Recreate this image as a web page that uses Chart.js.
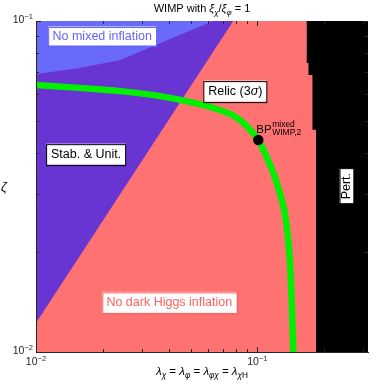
<!DOCTYPE html>
<html><head><meta charset="utf-8">
<script src="https://cdn.jsdelivr.net/npm/chart.js@4/dist/chart.umd.min.js"></script>
<style>html,body{margin:0;padding:0;background:#fff}canvas{display:block}</style>
</head><body>
<canvas id="c" width="374" height="388"></canvas>
<script>
// ---------- data ----------
const xRange = [0.01, 0.316];
const yRange = [0.01, 0.1];
// Relic (3 sigma) curve
const relicX = [0.0100, 0.0158, 0.0240, 0.0364, 0.0498, 0.0632, 0.0813, 0.0948, 0.1010, 0.1064, 0.1181, 0.1271, 0.1352, 0.1410, 0.1455];
const relicY = [0.0641, 0.0628, 0.0614, 0.0593, 0.0569, 0.0546, 0.0509, 0.0462, 0.0437, 0.0408, 0.0347, 0.0298, 0.0245, 0.0177, 0.0100];
// Stability & unitarity boundary (excluded above)
const stabX = [0.0100, 0.0778];
const stabY = [0.01224, 0.1];
// No mixed inflation boundary (excluded above)
const mixedX = [0.0100, 0.0158, 0.0240, 0.0384, 0.0632];
const mixedY = [0.0692, 0.0721, 0.0763, 0.0870, 0.1];
// Perturbativity boundary (excluded right)
const pertX = [0.1667, 0.1667, 0.1701, 0.1701, 0.1773, 0.1773, 0.1840, 0.1840, 0.316];
const pertY = [0.1, 0.0746, 0.0746, 0.0687, 0.0687, 0.0469, 0.0469, 0.0100, 0.0100];
// No dark Higgs inflation region (background)
const darkX = [0.01, 0.316];
const darkY = [0.01, 0.01];
// Benchmark point
const bpX = [0.101];
const bpY = [0.0437];
// ticks
const xMajorTicks = [0.01, 0.1];
const xTickLabels = [['10', '\u22122'], ['10', '\u22121']];
const yMajorTicks = [0.01, 0.1];
const yTickLabels = [['10', '\u22122'], ['10', '\u22121']];
const xMinorTicks = [0.02, 0.03, 0.04, 0.05, 0.06, 0.07, 0.08, 0.09, 0.2, 0.3];
const yMinorTicks = [0.02, 0.03, 0.04, 0.05, 0.06, 0.07, 0.08, 0.09];
// annotation labels
const labelTexts = ['No mixed inflation', 'Stab. & Unit.', 'Relic (3\u03c3)', 'No dark Higgs inflation', 'Pert.'];
const labelX = [0.0199, 0.01684, 0.0795, 0.0400, 0.2528];
const labelY = [0.0901, 0.0396, 0.0614, 0.01412, 0.0317];

// ---------- styles ----------
const FONT = '"Liberation Sans", Arial, Helvetica, sans-serif';
const labelColors = ['rgb(100,100,255)', '#000', '#000', 'rgb(255,95,95)', '#000'];
const labelRot = [0, 0, 0, 0, -Math.PI / 2];
const labelBoxH = [19, 21, 21, 21, 14];

const pts = (xs, ys) => xs.map((x, i) => ({x, y: ys[i]}));
const fillDs = (xs, ys, bg, order) => ({
  data: pts(xs, ys), showLine: true, borderWidth: 0, borderColor: 'rgba(0,0,0,0)',
  pointRadius: 0, fill: 'end', backgroundColor: bg, order
});

// ---------- rich text ----------
const greek = /[\u0370-\u03ff]/;
function segsOf(text) {
  const out = []; let cur = '';
  for (const ch of text) {
    if (greek.test(ch)) { if (cur) out.push({t: cur}); out.push({t: ch, it: true}); cur = ''; }
    else cur += ch;
  }
  if (cur) out.push({t: cur});
  return out;
}
function fontFor(s, base) {
  const size = (s.k === 'sub' || s.k === 'sup') ? base * 0.72 : base;
  return (s.it ? 'italic ' : '') + size + 'px ' + FONT;
}
function richWidth(ctx, segs, base) {
  let w = 0;
  for (const s of segs) { ctx.font = fontFor(s, base); w += ctx.measureText(s.t).width; }
  return w;
}
function drawRich(ctx, segs, x, y, align, base) {
  const w = richWidth(ctx, segs, base);
  let cx = align === 'center' ? x - w / 2 : align === 'right' ? x - w : x;
  ctx.textAlign = 'left';
  for (const s of segs) {
    ctx.font = fontFor(s, base);
    const dy = s.k === 'sub' ? base * 0.28 : s.k === 'sup' ? -base * 0.42 : 0;
    ctx.fillText(s.t, cx, y + dy);
    cx += ctx.measureText(s.t).width;
  }
  return w;
}

const decor = {
  id: 'decor',
  afterDatasetsDraw(chart) {
    const ctx = chart.ctx, xs = chart.scales.x, ys = chart.scales.y, a = chart.chartArea;
    ctx.save();
    // inward ticks
    ctx.strokeStyle = '#262626'; ctx.lineWidth = 1;
    ctx.beginPath();
    const tx = (v, len) => { const p = Math.round(xs.getPixelForValue(v)) + 0.5;
      ctx.moveTo(p, a.bottom); ctx.lineTo(p, a.bottom - len); ctx.moveTo(p, a.top); ctx.lineTo(p, a.top + len); };
    const ty = (v, len) => { const p = Math.round(ys.getPixelForValue(v)) + 0.5;
      ctx.moveTo(a.left, p); ctx.lineTo(a.left + len, p); ctx.moveTo(a.right, p); ctx.lineTo(a.right - len, p); };
    xMajorTicks.forEach(v => tx(v, 5)); xMinorTicks.forEach(v => tx(v, 3));
    yMajorTicks.forEach(v => ty(v, 5)); yMinorTicks.forEach(v => ty(v, 3));
    ctx.stroke();

    // annotation boxes
    ctx.textBaseline = 'middle';
    labelTexts.forEach((txt, i) => {
      const segs = segsOf(txt);
      const base = 12.5;
      const w = richWidth(ctx, segs, base);
      const px = xs.getPixelForValue(labelX[i]), py = ys.getPixelForValue(labelY[i]);
      ctx.save();
      ctx.translate(px, py); ctx.rotate(labelRot[i]);
      const bw = w + 9, bh = labelBoxH[i];
      ctx.fillStyle = '#fff';
      ctx.fillRect(-bw / 2, -bh / 2, bw, bh);
      ctx.strokeStyle = labelColors[i]; ctx.lineWidth = 1;
      ctx.strokeRect(Math.round(-bw / 2) + 0.5, Math.round(-bh / 2) + 0.5, Math.round(bw), Math.round(bh));
      ctx.fillStyle = labelColors[i];
      drawRich(ctx, segs, 0, 0.5, 'center', base);
      ctx.restore();
    });

    // BP label
    const bx = xs.getPixelForValue(bpX[0]), by = ys.getPixelForValue(bpY[0]);
    ctx.fillStyle = '#000'; ctx.textBaseline = 'alphabetic';
    ctx.font = '11.5px ' + FONT; ctx.textAlign = 'left';
    ctx.fillText('BP', bx - 2, by - 7);
    const bpw = ctx.measureText('BP').width;
    ctx.font = '8.5px ' + FONT;
    ctx.fillText('mixed', bx - 2 + bpw + 0.5, by - 13);
    ctx.fillText('WIMP,2', bx - 2 + bpw + 0.5, by - 5.5);
    ctx.restore();
  },
  afterDraw(chart) {
    const ctx = chart.ctx, xs = chart.scales.x, ys = chart.scales.y, a = chart.chartArea;
    ctx.save();
    ctx.fillStyle = '#262626'; ctx.textBaseline = 'alphabetic';
    // tick labels
    xMajorTicks.forEach((v, i) => {
      const p = xs.getPixelForValue(v);
      drawRich(ctx, [{t: xTickLabels[i][0]}, {t: xTickLabels[i][1], k: 'sup'}], p, a.bottom + 13, 'center', 10.5);
    });
    yMajorTicks.forEach((v, i) => {
      const p = ys.getPixelForValue(v);
      drawRich(ctx, [{t: yTickLabels[i][0]}, {t: yTickLabels[i][1], k: 'sup'}], a.left - 3, p + 2, 'right', 10.5);
    });
    // title
    const cx = (a.left + a.right) / 2;
    ctx.fillStyle = '#000';
    drawRich(ctx, [{t: 'WIMP with '}, {t: '\u03be', it: true}, {t: '\u03c7', k: 'sub', it: true}, {t: '/'},
      {t: '\u03be', it: true}, {t: '\u03c6', k: 'sub', it: true}, {t: ' = 1'}], cx, 12, 'center', 11);
    // x title
    drawRich(ctx, [{t: '\u03bb', it: true}, {t: '\u03c7', k: 'sub', it: true}, {t: ' = '},
      {t: '\u03bb', it: true}, {t: '\u03c6', k: 'sub', it: true}, {t: ' = '},
      {t: '\u03bb', it: true}, {t: '\u03c6\u03c7', k: 'sub', it: true}, {t: ' = '},
      {t: '\u03bb', it: true}, {t: '\u03c7', k: 'sub', it: true}, {t: 'H', k: 'sub'}], cx, a.bottom + 23, 'center', 11.5);
    // y title
    ctx.font = 'italic 12.5px ' + FONT; ctx.textAlign = 'left';
    ctx.fillText('\u03b6', 1, (a.top + a.bottom) / 2 + 4);
    ctx.restore();
  }
};

const axisCommon = {
  type: 'logarithmic',
  ticks: { display: false },
  grid: { display: false, drawTicks: false, tickLength: 0 },
  title: { display: false },
  border: { display: true, color: '#262626', width: 1, z: 2 }
};

new Chart(document.getElementById('c'), {
  type: 'scatter',
  data: {
    datasets: [
      fillDs(darkX, darkY, 'rgb(255,114,114)', 6),
      fillDs(stabX, stabY, 'rgb(104,52,210)', 5),
      fillDs(mixedX, mixedY, 'rgb(106,106,250)', 4),
      fillDs(pertX, pertY, '#000', 3),
      { data: pts(relicX, relicY), showLine: true, borderColor: 'rgb(0,240,0)', borderWidth: 6.5,
        pointRadius: 0, fill: false, cubicInterpolationMode: 'monotone', order: 2 },
      { data: pts(bpX, bpY), pointRadius: 5.2, pointBackgroundColor: '#000', pointBorderWidth: 0,
        borderColor: '#000', order: 1 }
    ]
  },
  options: {
    responsive: false, animation: false, devicePixelRatio: 1,
    layout: { padding: { left: 36, right: 6, top: 21, bottom: 36 } },
    plugins: { legend: { display: false }, tooltip: { enabled: false }, title: { display: false } },
    scales: {
      x: Object.assign({}, axisCommon, { min: xRange[0], max: xRange[1],
        afterFit(s) { s.height = 0; } }),
      y: Object.assign({}, axisCommon, { min: yRange[0], max: yRange[1],
        afterFit(s) { s.width = 0; } })
    }
  },
  plugins: [decor]
});
</script>
</body></html>
